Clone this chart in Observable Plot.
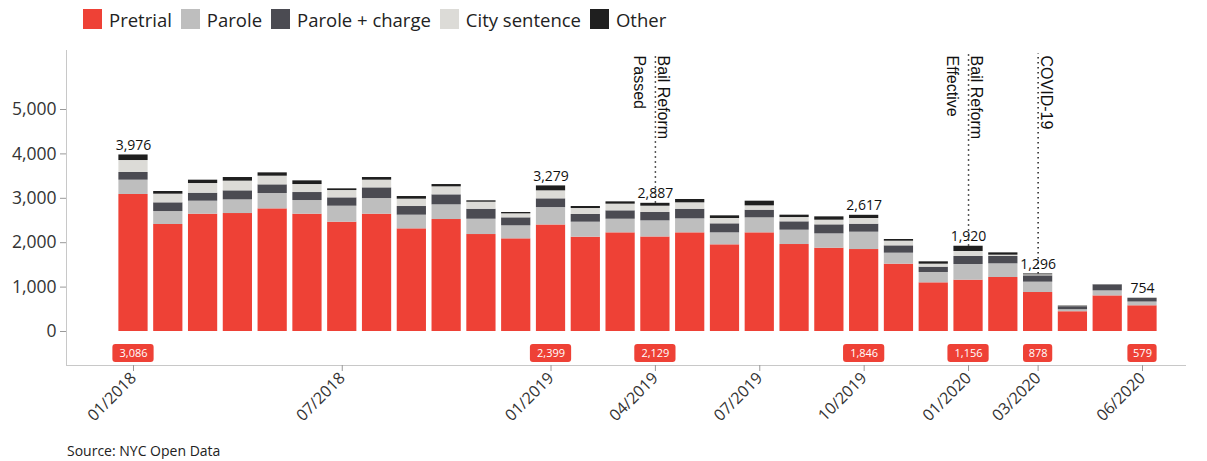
<!DOCTYPE html>
<html><head><meta charset="utf-8">
<script src="https://cdn.jsdelivr.net/npm/d3@7"></script>
<script src="https://cdn.jsdelivr.net/npm/@observablehq/plot@0.6"></script>
<style>
body{margin:0;background:#fff;font-family:"Open Sans", sans-serif;}
#legend{height:38px;display:flex;align-items:center;padding-left:83px;box-sizing:border-box;font-size:18.5px;color:#222;}
.item{display:flex;align-items:center;margin-right:9px}
.sw{width:19px;height:20px;margin-right:7px}
#caption{margin-left:67px;font-size:14px;color:#222;line-height:16px}
</style></head><body>
<div id="legend"></div><div id="chart"></div><div id="caption">Source: NYC Open Data</div>
<script>
const months = ["01/2018","02/2018","03/2018","04/2018","05/2018","06/2018","07/2018","08/2018","09/2018","10/2018","11/2018","12/2018",
"01/2019","02/2019","03/2019","04/2019","05/2019","06/2019","07/2019","08/2019","09/2019","10/2019","11/2019","12/2019",
"01/2020","02/2020","03/2020","04/2020","05/2020","06/2020"];
const pretrial     = [3086,2410,2642,2657,2762,2642,2462,2642,2312,2522,2184,2087,2399,2124,2222,2129,2222,1952,2222,1959,1876,1846,1516,1096,1156,1216,878,445,802,579];
const parole       = [322,292,293,308,346,308,360,353,308,331,345,293,393,338,307,363,315,270,338,323,323,391,248,233,353,308,233,45,113,85];
const paroleCharge = [173,196,180,203,195,180,188,240,195,225,225,180,196,173,189,188,217,203,172,188,203,180,165,120,180,165,143,70,135,80];
const citySentence = [270,195,218,218,195,180,165,173,165,180,158,90,180,135,150,142,144,120,98,97,105,128,105,67,113,30,22,10,5,6];
const other        = [125,60,75,82,75,83,38,60,60,52,31,30,111,45,52,65,75,60,105,53,75,72,38,53,118,52,20,8,3,4];

const seriesNames = ["Pretrial","Parole","Parole + charge","City sentence","Other"];
const seriesColors = ["#ee4136","#bebebe","#4b4b52","#dcdbd7","#1f1f1f"];
const xTicks = ["01/2018","07/2018","01/2019","04/2019","07/2019","10/2019","01/2020","03/2020","06/2020"];
const yTicks = [0,1000,2000,3000,4000,5000];
const labeledMonths = ["01/2018","01/2019","04/2019","10/2019","01/2020","03/2020","06/2020"];
const eventMonths = ["04/2019","01/2020","03/2020"];
const eventLabels = ["Bail Reform\nPassed","Bail Reform\nEffective","COVID-19"];

const seriesValues = [pretrial, parole, paroleCharge, citySentence, other];
const rows = [];
seriesNames.forEach((s, k) => months.forEach((m, i) => rows.push({month: m, series: s, value: seriesValues[k][i]})));
const totals = months.map((m, i) => ({month: m, total: seriesValues.reduce((a, arr) => a + arr[i], 0), pretrial: pretrial[i]}));
const labeled = totals.filter(d => labeledMonths.includes(d.month));
const events = eventMonths.map((m, i) => ({month: m, label: eventLabels[i], total: totals.find(t => t.month === m).total}));
const fmt = d3.format(",");

// legend
const lg = document.getElementById("legend");
seriesNames.forEach((s, k) => {
  const it = document.createElement("div"); it.className = "item";
  it.innerHTML = `<div class="sw" style="background:${seriesColors[k]}"></div><span>${s}</span>`;
  lg.appendChild(it);
});

const topY = 6260;
const chart = Plot.plot({
  width: 1207, height: 405,
  marginLeft: 66, marginRight: 22, marginTop: 12, marginBottom: 78,
  style: {fontFamily: "'Open Sans', sans-serif", color: "#333", background: "#fff"},
  x: {type: "band", domain: months, range: [115.6, 1159.4], round: false, paddingInner: 0.16, paddingOuter: 0.08, label: null},
  y: {domain: [-766, 6329], label: null},
  color: {domain: seriesNames, range: seriesColors},
  marks: [
    Plot.frame({anchor: "left", stroke: "#c8c8c8"}),
    Plot.frame({anchor: "bottom", stroke: "#c8c8c8"}),
    Plot.axisY({ticks: yTicks, tickFormat: d3.format(","), tickSize: 6, tickPadding: 4, fontSize: 17.5, stroke: "#999", fill: "#333"}),
    Plot.axisX({ticks: xTicks, tickRotate: -45, tickSize: 6, tickPadding: 4, fontSize: 16, stroke: "#999", fill: "#333"}),
    Plot.barY(rows, {x: "month", y: "value", fill: "series"}),
    Plot.ruleX(events, {x: "month", y1: "total", y2: topY, stroke: "#222", strokeWidth: 1.5, strokeDasharray: "1.5,3.5"}),
    Plot.text(events.filter(d => d.label.includes("\n")), {x: "month", y: topY, text: "label", rotate: 90, textAnchor: "start", lineAnchor: "middle", lineHeight: 1.5, dx: -2, dy: 2, fontFamily: "Liberation Sans, Arial, sans-serif", fontSize: 16, fill: "#111"}),
    Plot.text(events.filter(d => !d.label.includes("\n")), {x: "month", y: topY, text: "label", rotate: 90, textAnchor: "start", lineAnchor: "bottom", dx: 3, dy: 2, fontFamily: "Liberation Sans, Arial, sans-serif", fontSize: 16, fill: "#111"}),
    Plot.text(labeled, {x: "month", y: "total", text: d => fmt(d.total), lineAnchor: "bottom", dy: -5, fontSize: 14, fill: "#111"}),
    Plot.barY(labeled.filter(d => fmt(d.pretrial).length > 3), {x: "month", y1: 0, y2: 0, insetTop: 13, insetBottom: -31, insetLeft: -6, insetRight: -6, rx: 3, fill: "#ee4136"}),
    Plot.barY(labeled.filter(d => fmt(d.pretrial).length <= 3), {x: "month", y1: 0, y2: 0, insetTop: 13, insetBottom: -31, insetLeft: 0, insetRight: 0, rx: 3, fill: "#ee4136"}),
    Plot.text(labeled, {x: "month", y: 0, text: d => fmt(d.pretrial), dy: 22, fill: "white", fontSize: 11})
  ]
});
document.getElementById("chart").appendChild(chart);
</script>
</body></html>
